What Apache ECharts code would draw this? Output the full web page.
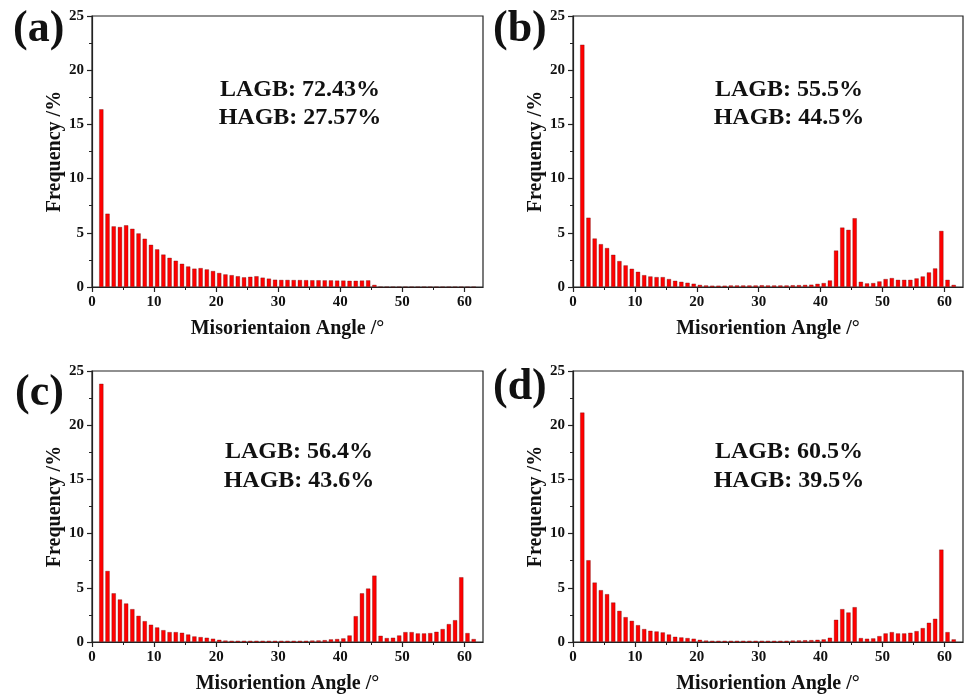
<!DOCTYPE html>
<html>
<head>
<meta charset="utf-8">
<script src="https://cdn.jsdelivr.net/npm/echarts@6/dist/echarts.min.js"></script>
<style>
html,body{margin:0;padding:0;background:#fff;}
#chart{width:965px;height:695px;}
</style>
</head>
<body>
<div id="chart"></div>
<script>
// Bin centres (misorientation angle, degrees)
var angles = [1.5,2.5,3.5,4.5,5.5,6.5,7.5,8.5,9.5,10.5,11.5,12.5,13.5,14.5,15.5,16.5,17.5,18.5,19.5,20.5,
  21.5,22.5,23.5,24.5,25.5,26.5,27.5,28.5,29.5,30.5,31.5,32.5,33.5,34.5,35.5,36.5,37.5,38.5,39.5,40.5,
  41.5,42.5,43.5,44.5,45.5,46.5,47.5,48.5,49.5,50.5,51.5,52.5,53.5,54.5,55.5,56.5,57.5,58.5,59.5,60.5,61.5];

// Frequency (%) per panel
var freqA = [16.4,6.77,5.6,5.54,5.7,5.38,4.95,4.46,3.9,3.48,3.0,2.7,2.43,2.15,1.9,1.7,1.75,1.63,1.48,1.3,
  1.17,1.1,1.0,0.9,0.95,1.0,0.87,0.78,0.68,0.66,0.66,0.65,0.65,0.64,0.63,0.63,0.62,0.62,0.6,0.6,
  0.58,0.58,0.6,0.62,0.2,0,0,0,0,0,0,0,0,0,0,0,0,0,0,0,0];
var freqB = [22.36,6.4,4.48,3.96,3.6,2.98,2.4,2.0,1.69,1.41,1.1,0.98,0.92,0.92,0.74,0.58,0.49,0.4,0.31,0.2,
  0.15,0.13,0.13,0.13,0.15,0.15,0.15,0.15,0.15,0.17,0.15,0.15,0.15,0.15,0.17,0.18,0.2,0.22,
  0.3,0.37,0.61,3.37,5.49,5.28,6.35,0.49,0.34,0.37,0.52,0.74,0.83,0.67,0.67,0.67,0.8,0.98,1.35,1.72,5.18,0.67,0.2];
var freqC = [23.83,6.56,4.5,3.93,3.56,3.04,2.42,1.93,1.6,1.35,1.1,0.92,0.92,0.86,0.7,0.52,0.46,0.4,0.31,0.21,
  0.14,0.12,0.12,0.12,0.12,0.12,0.12,0.12,0.12,0.12,0.12,0.12,0.12,0.12,0.14,0.15,0.18,
  0.25,0.28,0.34,0.61,2.39,4.5,4.94,6.13,0.58,0.37,0.4,0.61,0.92,0.92,0.8,0.8,0.83,0.95,1.2,1.66,2.02,5.98,0.83,0.28];
var freqD = [21.17,7.55,5.49,4.79,4.42,3.65,2.88,2.3,1.96,1.56,1.2,1.04,0.98,0.89,0.7,0.49,0.43,0.37,0.31,0.21,
  0.14,0.12,0.12,0.12,0.12,0.12,0.12,0.12,0.12,0.12,0.12,0.12,0.12,0.12,0.14,0.15,0.17,0.18,
  0.21,0.25,0.4,2.06,3.04,2.73,3.22,0.37,0.31,0.34,0.55,0.8,0.92,0.8,0.8,0.86,1.01,1.29,1.78,2.15,8.53,0.92,0.25];

var panelLabels = ['(a)','(b)','(c)','(d)'];
var xNames = ['Misorientaion Angle /°','Misoriention Angle /°','Misoriention Angle /°','Misoriention Angle /°'];
var yName = 'Frequency /%';
var lagbText = ['LAGB: 72.43%','LAGB: 55.5%','LAGB: 56.4%','LAGB: 60.5%'];
var hagbText = ['HAGB: 27.57%','HAGB: 44.5%','HAGB: 43.6%','HAGB: 39.5%'];
var xTicks = [0,10,20,30,40,50,60];

var allFreq = [freqA, freqB, freqC, freqD];
var FONT = "'Liberation Serif','Times New Roman',serif";

var grids = [
  {left:92, top:16, width:391, height:271},
  {left:573, top:16, width:390, height:271},
  {left:92, top:371, width:391, height:271},
  {left:573, top:371, width:390, height:271}
];

var option = {
  backgroundColor:'#fff',
  animation:false,
  grid: grids.map(function(g){ return Object.assign({show:true, borderColor:'#222', borderWidth:1.2, backgroundColor:'transparent'}, g); }),
  xAxis: grids.map(function(g,i){
    return {
      type:'value', gridIndex:i, min:0, max:63, interval:10,
      name:xNames[i], nameLocation:'middle', nameGap:32,
      nameTextStyle:{fontFamily:FONT, fontWeight:'bold', fontSize:20, color:'#111'},
      axisLine:{show:true, onZero:false, lineStyle:{color:'#222', width:1.2}},
      axisTick:{show:true, inside:false, length:5, lineStyle:{color:'#222', width:1.2}, customValues:xTicks},
      minorTick:{show:true, splitNumber:2, length:3, lineStyle:{color:'#222', width:1}},
      axisLabel:{fontFamily:FONT, fontWeight:'bold', fontSize:15, color:'#111', margin:8, customValues:xTicks},
      splitLine:{show:false}
    };
  }),
  yAxis: grids.map(function(g,i){
    return {
      type:'value', gridIndex:i, min:0, max:25, interval:5,
      name:yName, nameLocation:'middle', nameGap:27, nameRotate:90,
      nameTextStyle:{fontFamily:FONT, fontWeight:'bold', fontSize:20, color:'#111'},
      axisLine:{show:true, lineStyle:{color:'#222', width:1.2}},
      axisTick:{show:true, inside:false, length:5, lineStyle:{color:'#222', width:1.2}},
      minorTick:{show:true, splitNumber:2, length:3, lineStyle:{color:'#222', width:1}},
      axisLabel:{fontFamily:FONT, fontWeight:'bold', fontSize:15, color:'#111', margin:8},
      splitLine:{show:false}
    };
  }),
  series: allFreq.map(function(arr,i){
    return {
      type:'bar', xAxisIndex:i, yAxisIndex:i,
      barWidth:4.4,
      data: angles.map(function(a,k){ return [a, arr[k]]; }),
      itemStyle:{color:'#ff0000', borderColor:'rgba(90,0,0,0.55)', borderWidth:0.6}
    };
  }),
  graphic: []
};

var labelPos = [[13,8],[493,8],[15,372],[493,366]];
var textCenters = [[300,90,118],[789,90,118],[299,452,481],[789,452,481]];
panelLabels.forEach(function(t,i){
  option.graphic.push({type:'text', left:labelPos[i][0], top:labelPos[i][1],
    style:{text:t, fontFamily:FONT, fontWeight:'bold', fontSize:44, fill:'#111'}});
  option.graphic.push({type:'text', x:textCenters[i][0], y:textCenters[i][1],
    style:{text:lagbText[i], fontFamily:FONT, fontWeight:'bold', fontSize:24, fill:'#111', textAlign:'center', textVerticalAlign:'middle'}});
  option.graphic.push({type:'text', x:textCenters[i][0], y:textCenters[i][2],
    style:{text:hagbText[i], fontFamily:FONT, fontWeight:'bold', fontSize:24, fill:'#111', textAlign:'center', textVerticalAlign:'middle'}});
});

var chart = echarts.init(document.getElementById('chart'), null, {renderer:'canvas'});
chart.setOption(option);
</script>
</body>
</html>
